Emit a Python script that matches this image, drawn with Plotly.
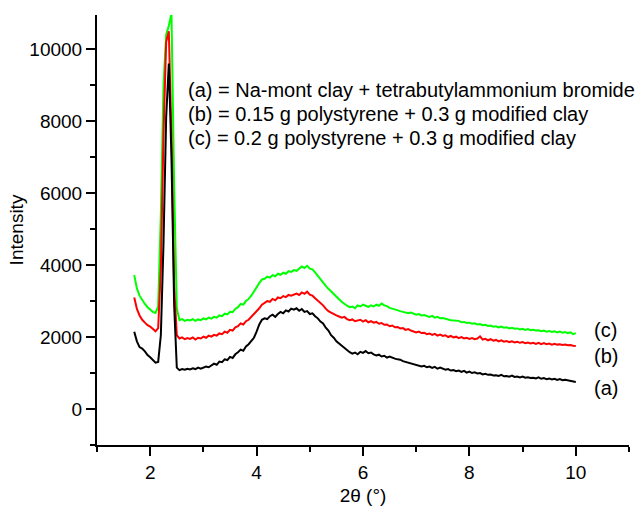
import plotly.graph_objects as go

two_theta = [
    1.70, 1.75, 1.80, 1.85, 1.90, 1.95, 2.00, 2.05, 2.10, 2.15,
    2.20, 2.25, 2.30, 2.35, 2.40, 2.45, 2.50, 2.55, 2.60, 2.65,
    2.70, 2.75, 2.80, 2.85, 2.90, 2.95, 3.00, 3.05, 3.10, 3.15,
    3.20, 3.25, 3.30, 3.35, 3.40, 3.45, 3.50, 3.55, 3.60, 3.65,
    3.70, 3.75, 3.80, 3.85, 3.90, 3.95, 4.00, 4.05, 4.10, 4.15,
    4.20, 4.25, 4.30, 4.35, 4.40, 4.45, 4.50, 4.55, 4.60, 4.65,
    4.70, 4.75, 4.80, 4.85, 4.90, 4.95, 5.00, 5.05, 5.10, 5.15,
    5.20, 5.25, 5.30, 5.35, 5.40, 5.45, 5.50, 5.55, 5.60, 5.65,
    5.70, 5.75, 5.80, 5.85, 5.90, 5.95, 6.00, 6.05, 6.10, 6.15,
    6.20, 6.25, 6.30, 6.35, 6.40, 6.45, 6.50, 6.55, 6.60, 6.65,
    6.70, 6.75, 6.80, 6.85, 6.90, 6.95, 7.00, 7.05, 7.10, 7.15,
    7.20, 7.25, 7.30, 7.35, 7.40, 7.45, 7.50, 7.55, 7.60, 7.65,
    7.70, 7.75, 7.80, 7.85, 7.90, 7.95, 8.00, 8.05, 8.10, 8.15,
    8.20, 8.25, 8.30, 8.35, 8.40, 8.45, 8.50, 8.55, 8.60, 8.65,
    8.70, 8.75, 8.80, 8.85, 8.90, 8.95, 9.00, 9.05, 9.10, 9.15,
    9.20, 9.25, 9.30, 9.35, 9.40, 9.45, 9.50, 9.55, 9.60, 9.65,
    9.70, 9.75, 9.80, 9.85, 9.90, 9.95, 10.00,
]

intensity_a = [
    2150, 1880, 1720, 1680, 1600, 1500, 1440, 1350, 1290, 1310,
    2050, 4600, 8100, 9600, 7000, 2900, 1150, 1080, 1110, 1090,
    1120, 1100, 1130, 1110, 1150, 1120, 1140, 1180, 1160, 1200,
    1260, 1230, 1320, 1300, 1380, 1360, 1450, 1420, 1520, 1580,
    1650, 1620, 1740, 1800, 1900, 1980, 2150, 2350, 2480, 2520,
    2500, 2580, 2620, 2560, 2640, 2700, 2660, 2740, 2710, 2790,
    2760, 2800, 2730, 2780, 2700, 2720, 2640, 2660, 2580, 2520,
    2430, 2380, 2260, 2180, 2050, 1980, 1880, 1820, 1740, 1680,
    1620, 1580, 1540, 1570, 1520, 1590, 1560, 1610, 1550, 1570,
    1520, 1490, 1510, 1460, 1480, 1430, 1460, 1420, 1400, 1380,
    1370, 1330, 1310, 1290, 1260, 1240, 1220, 1200, 1180, 1200,
    1160, 1180, 1140, 1170, 1120, 1150, 1110, 1090, 1110, 1070,
    1080, 1050, 1070, 1030, 1060, 1010, 1040, 1000, 1020, 990,
    1000, 960, 980, 950, 960, 930, 940, 920, 950, 910,
    920, 900, 930, 890, 900, 880, 900, 870, 880, 860,
    870, 850, 880, 840, 860, 830, 850, 820, 840, 810,
    830, 800, 810, 790, 790, 770, 750,
]

intensity_b = [
    3100, 2780, 2600, 2480, 2400, 2330, 2290, 2220, 2160, 2250,
    3900, 7600, 10200, 10500, 7600, 3400, 2050, 1960, 1990, 1940,
    1970, 1950, 1990, 1930, 1980, 1960, 2010, 1980, 2040, 2010,
    2060, 2040, 2100, 2080, 2150, 2120, 2200, 2180, 2270, 2300,
    2380, 2350, 2440, 2480, 2560, 2620, 2720, 2800, 2900, 2960,
    3000, 2980, 3060, 3020, 3100, 3080, 3140, 3110, 3170, 3150,
    3180, 3210, 3170, 3240, 3200, 3260, 3180, 3150, 3080, 3020,
    2960, 2880, 2790, 2720, 2680, 2630, 2600, 2570, 2540, 2560,
    2500, 2470, 2490, 2440, 2460, 2480, 2430, 2470, 2410, 2440,
    2400, 2420, 2370, 2390, 2340, 2350, 2300, 2320, 2270, 2280,
    2240, 2250, 2200, 2220, 2180, 2160, 2130, 2150, 2110, 2120,
    2080, 2100, 2060, 2090, 2040, 2070, 2030, 2050, 2000, 2030,
    1990, 2010, 1970, 2000, 1960, 1980, 1950, 1970, 1940, 1960,
    2020, 1930, 1950, 1910, 1940, 1900, 1920, 1880, 1910, 1870,
    1890, 1860, 1880, 1850, 1870, 1840, 1860, 1830, 1850, 1820,
    1840, 1810, 1840, 1800, 1830, 1800, 1820, 1790, 1810, 1790,
    1800, 1780, 1790, 1770, 1780, 1760, 1750,
]

intensity_c = [
    3720, 3350, 3150, 3020, 2920, 2830, 2760, 2700, 2670, 2850,
    5400, 9000, 10400, 10650, 11000, 6200, 2800, 2470, 2500, 2450,
    2480, 2460, 2500, 2450, 2490, 2470, 2520, 2490, 2540, 2510,
    2560, 2540, 2600, 2580, 2650, 2630, 2700, 2690, 2780, 2830,
    2920, 2900, 3000, 3060, 3150, 3250, 3380, 3500, 3600, 3620,
    3680, 3650, 3720, 3690, 3760, 3730, 3790, 3760, 3830, 3810,
    3860, 3840, 3900, 3960, 3920, 3980, 3900, 3880, 3800, 3700,
    3600, 3500, 3420, 3340, 3260, 3200, 3120, 3050, 2980, 2920,
    2870, 2830, 2850, 2800, 2880, 2850, 2900, 2870, 2840, 2880,
    2850, 2900, 2870, 2930, 2880, 2860, 2810, 2790, 2760, 2740,
    2720, 2700, 2690, 2660, 2680, 2640, 2620, 2640, 2600, 2610,
    2580, 2560, 2590, 2540, 2560, 2520, 2530, 2500, 2490, 2470,
    2460, 2440, 2450, 2410, 2420, 2390, 2400, 2370, 2380, 2350,
    2360, 2330, 2340, 2310, 2320, 2290, 2300, 2270, 2290, 2260,
    2270, 2240, 2260, 2230, 2240, 2210, 2230, 2200, 2220, 2190,
    2200, 2180, 2190, 2160, 2180, 2150, 2170, 2140, 2160, 2130,
    2150, 2120, 2140, 2110, 2130, 2080, 2110,
]

y_ticks = [0, 2000, 4000, 6000, 8000, 10000]
y_tick_text = ["0", "2000", "4000", "6000", "8000", "10000"]
x_ticks = [2, 4, 6, 8, 10]

legend_lines = [
    "(a) = Na-mont clay + tetrabutylammonium bromide",
    "(b) = 0.15 g polystyrene + 0.3 g modified clay",
    "(c) = 0.2 g polystyrene + 0.3 g modified clay",
]
legend_y = [8860, 8195, 7530]
curve_tags = ["(a)", "(b)", "(c)"]
curve_tag_y = [580, 1470, 2195]

FONT = "Liberation Sans, Arial, Helvetica, sans-serif"

fig = go.Figure()
fig.add_trace(go.Scatter(x=two_theta, y=intensity_c, mode="lines",
                         line=dict(color="#00ff00", width=2), showlegend=False))
fig.add_trace(go.Scatter(x=two_theta, y=intensity_b, mode="lines",
                         line=dict(color="#ff0000", width=2), showlegend=False))
fig.add_trace(go.Scatter(x=two_theta, y=intensity_a, mode="lines",
                         line=dict(color="#000000", width=2), showlegend=False))

for txt, yy in zip(legend_lines, legend_y):
    fig.add_annotation(x=2.68, y=yy, xref="x", yref="y", text=txt,
                       showarrow=False, xanchor="left", yanchor="middle",
                       font=dict(family=FONT, size=20, color="black"))
for txt, yy in zip(curve_tags, curve_tag_y):
    fig.add_annotation(x=10.3, y=yy, xref="x", yref="y", text=txt,
                       showarrow=False, xanchor="left", yanchor="middle",
                       font=dict(family=FONT, size=20, color="black"))

fig.update_layout(
    width=639, height=506,
    margin=dict(l=97, r=10, t=15, b=61),
    paper_bgcolor="white", plot_bgcolor="white",
    font=dict(family=FONT, size=19, color="black"),
    showlegend=False,
)
fig.update_xaxes(
    range=[1, 11], tickvals=x_ticks, ticks="outside", ticklen=9, automargin=False,
    tickwidth=2, tickcolor="black", showline=True, linewidth=2, linecolor="black",
    showgrid=False, zeroline=False, tickfont=dict(size=19),
    minor=dict(tickvals=[1, 3, 5, 7, 9, 11], ticks="outside", ticklen=5, tickwidth=2, tickcolor="black"),
    title=dict(text="2θ (°)", font=dict(size=19), standoff=8),
)
fig.update_yaxes(
    range=[-1000, 10950], tickvals=y_ticks, ticktext=y_tick_text, ticks="outside",
    automargin=False,
    ticklen=9, tickwidth=2, tickcolor="black", showline=True, linewidth=2, linecolor="black",
    showgrid=False, zeroline=False, tickfont=dict(size=19),
    minor=dict(tickvals=[-1000, 1000, 3000, 5000, 7000, 9000], ticks="outside", ticklen=5, tickwidth=2, tickcolor="black"),
    title=dict(text="Intensity", font=dict(size=19), standoff=1),
)

fig.write_html("out.html")
